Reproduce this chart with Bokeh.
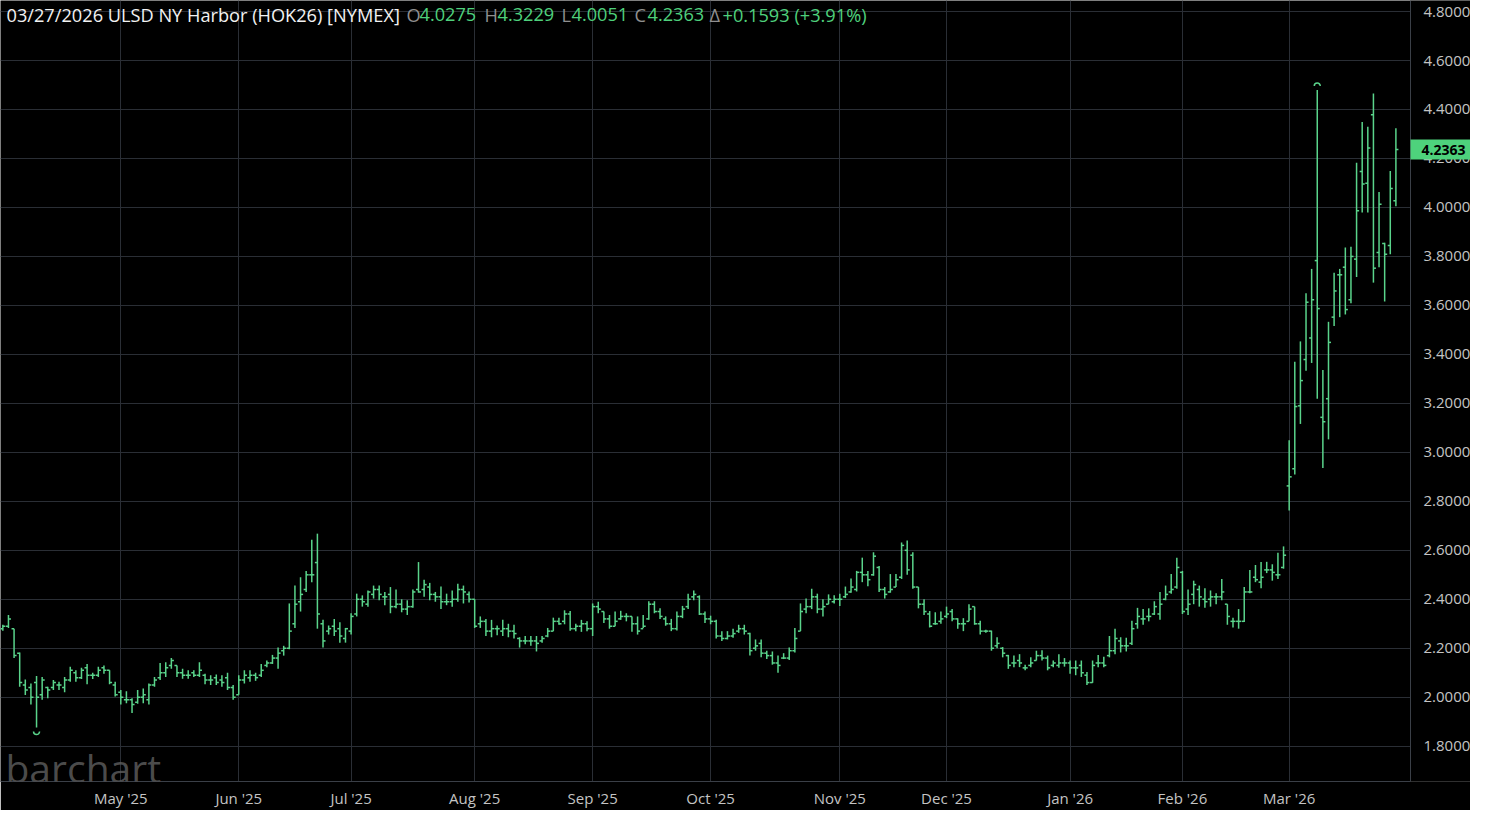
import numpy as np
import pandas as pd
from bokeh.plotting import figure
from bokeh.models import ColumnDataSource, FixedTicker, Label, NumeralTickFormatter, Range1d
from bokeh.embed import file_html
from bokeh.resources import INLINE

# ---------------- data ----------------
first_day = "2025-04-01"
last_day = "2026-03-27"
exchange_holidays = ["2025-04-18", "2025-05-26", "2025-06-19", "2025-07-04", "2025-09-01",
                     "2025-11-27", "2025-12-25", "2026-01-01", "2026-01-19", "2026-02-16"]

opens = [
    # Apr 2025
    2.28, 2.29, 2.28, 2.18, 2.05, 2.04, 2.06, 2.01, 2.04, 2.04, 2.05, 2.04, 2.07, 2.10, 2.08, 2.12, 2.09, 2.09, 2.12, 2.11, 2.05,
    # May
    2.02, 1.99, 1.99, 1.98, 2.00, 1.99, 2.05, 2.08, 2.10, 2.13, 2.13, 2.10, 2.09, 2.10, 2.09, 2.09, 2.07, 2.08, 2.07, 2.08, 2.04,
    # Jun
    2.01, 2.07, 2.08, 2.09, 2.09, 2.13, 2.14, 2.16, 2.19, 2.20, 2.30, 2.39, 2.44, 2.50, 2.55, 2.30, 2.27, 2.29, 2.28, 2.24,
    # Jul
    2.27, 2.34, 2.40, 2.38, 2.42, 2.44, 2.41, 2.42, 2.37, 2.38, 2.36, 2.37, 2.44, 2.44, 2.45, 2.42, 2.41, 2.39, 2.39, 2.40, 2.44, 2.42,
    # Aug
    2.40, 2.30, 2.31, 2.27, 2.28, 2.27, 2.28, 2.27, 2.24, 2.23, 2.23, 2.23, 2.23, 2.25, 2.27, 2.31, 2.31, 2.34, 2.28, 2.29, 2.30,
    # Sep
    2.28, 2.37, 2.35, 2.32, 2.29, 2.32, 2.33, 2.33, 2.30, 2.28, 2.32, 2.38, 2.35, 2.32, 2.30, 2.28, 2.33, 2.37, 2.41, 2.41, 2.34,
    # Oct
    2.32, 2.31, 2.25, 2.24, 2.25, 2.27, 2.28, 2.26, 2.20, 2.22, 2.18, 2.17, 2.14, 2.16, 2.16, 2.19, 2.27, 2.36, 2.37, 2.41, 2.36, 2.38, 2.39,
    # Nov
    2.40, 2.41, 2.43, 2.44, 2.51, 2.50, 2.50, 2.53, 2.44, 2.43, 2.45, 2.49, 2.60, 2.58, 2.45, 2.38, 2.34, 2.30, 2.31,
    # Dec
    2.33, 2.35, 2.32, 2.30, 2.31, 2.37, 2.30, 2.27, 2.27, 2.21, 2.20, 2.17, 2.14, 2.15, 2.12, 2.13, 2.15, 2.17, 2.16, 2.13, 2.13, 2.14,
    # Jan 2026
    2.14, 2.12, 2.13, 2.09, 2.06, 2.14, 2.14, 2.17, 2.19, 2.23, 2.21, 2.22, 2.30, 2.32, 2.33, 2.34, 2.34, 2.40, 2.43, 2.45,
    # Feb
    2.51, 2.36, 2.42, 2.44, 2.40, 2.40, 2.41, 2.41, 2.38, 2.31, 2.31, 2.31, 2.43, 2.49, 2.47, 2.52, 2.52, 2.50, 2.53,
    # Mar
    2.863, 2.933, 3.19, 3.379, 3.467, 3.783, 3.143, 3.219, 3.552, 3.725, 3.756, 3.623, 3.789, 4.147, 4.099, 4.379, 3.816, 3.853, 3.845, 4.0275,
]
highs = [
    2.296, 2.336, 2.28, 2.183, 2.072, 2.056, 2.087, 2.083, 2.043, 2.07, 2.063, 2.083, 2.125, 2.11, 2.12, 2.136, 2.10, 2.125, 2.13, 2.11, 2.063,
    2.03, 2.025, 1.996, 2.03, 2.036, 2.056, 2.083, 2.14, 2.143, 2.16, 2.13, 2.116, 2.11, 2.11, 2.143, 2.096, 2.09, 2.093, 2.09, 2.10, 2.05,
    2.09, 2.11, 2.11, 2.10, 2.136, 2.15, 2.173, 2.203, 2.21, 2.383, 2.456, 2.49, 2.516, 2.643, 2.668, 2.316, 2.293, 2.32, 2.306, 2.283,
    2.343, 2.423, 2.416, 2.436, 2.456, 2.456, 2.43, 2.45, 2.44, 2.40, 2.396, 2.44, 2.552, 2.48, 2.467, 2.43, 2.452, 2.423, 2.436, 2.463, 2.456, 2.432,
    2.40, 2.33, 2.32, 2.316, 2.293, 2.316, 2.30, 2.296, 2.245, 2.25, 2.25, 2.25, 2.25, 2.283, 2.325, 2.325, 2.355, 2.352, 2.30, 2.316, 2.31,
    2.383, 2.39, 2.35, 2.336, 2.35, 2.353, 2.343, 2.33, 2.33, 2.336, 2.392, 2.392, 2.363, 2.33, 2.32, 2.35, 2.373, 2.423, 2.436, 2.416, 2.35,
    2.333, 2.316, 2.27, 2.27, 2.28, 2.296, 2.296, 2.263, 2.236, 2.236, 2.19, 2.187, 2.17, 2.18, 2.203, 2.283, 2.383, 2.403, 2.443, 2.423, 2.40, 2.42, 2.416,
    2.423, 2.452, 2.485, 2.516, 2.57, 2.516, 2.592, 2.536, 2.45, 2.503, 2.503, 2.632, 2.64, 2.592, 2.45, 2.40, 2.352, 2.347, 2.35,
    2.37, 2.36, 2.323, 2.323, 2.38, 2.37, 2.312, 2.276, 2.272, 2.245, 2.205, 2.173, 2.17, 2.176, 2.133, 2.163, 2.19, 2.192, 2.17, 2.15, 2.176, 2.16,
    2.15, 2.15, 2.15, 2.103, 2.15, 2.173, 2.165, 2.25, 2.28, 2.245, 2.243, 2.312, 2.365, 2.36, 2.363, 2.392, 2.43, 2.456, 2.503, 2.57,
    2.516, 2.44, 2.476, 2.456, 2.445, 2.436, 2.425, 2.483, 2.38, 2.325, 2.36, 2.45, 2.52, 2.54, 2.552, 2.553, 2.543, 2.59, 2.616,
    3.049, 3.37, 3.453, 3.65, 3.749, 4.48, 3.336, 3.533, 3.733, 3.749, 3.836, 3.84, 4.183, 4.349, 4.329, 4.465, 4.063, 3.856, 4.149, 4.3229,
]
lows = [
    2.272, 2.283, 2.16, 2.043, 2.009, 1.97, 1.876, 1.99, 1.996, 2.03, 2.03, 2.02, 2.063, 2.063, 2.075, 2.053, 2.075, 2.083, 2.096, 2.053, 2.003,
    1.97, 1.976, 1.936, 1.973, 1.976, 1.97, 2.043, 2.07, 2.083, 2.116, 2.083, 2.076, 2.076, 2.083, 2.083, 2.053, 2.05, 2.05, 2.043, 2.03, 1.99,
    2.01, 2.056, 2.063, 2.067, 2.083, 2.123, 2.136, 2.116, 2.17, 2.196, 2.283, 2.35, 2.43, 2.47, 2.28, 2.203, 2.256, 2.25, 2.223, 2.223,
    2.256, 2.33, 2.37, 2.37, 2.403, 2.396, 2.376, 2.343, 2.363, 2.347, 2.336, 2.365, 2.427, 2.41, 2.396, 2.39, 2.36, 2.376, 2.37, 2.39, 2.383, 2.387,
    2.283, 2.283, 2.25, 2.245, 2.253, 2.25, 2.245, 2.24, 2.203, 2.216, 2.21, 2.187, 2.223, 2.245, 2.27, 2.296, 2.298, 2.272, 2.27, 2.267, 2.27,
    2.25, 2.343, 2.303, 2.28, 2.29, 2.316, 2.31, 2.267, 2.256, 2.283, 2.316, 2.343, 2.32, 2.292, 2.27, 2.273, 2.323, 2.36, 2.396, 2.336, 2.303,
    2.298, 2.24, 2.23, 2.236, 2.243, 2.263, 2.256, 2.17, 2.19, 2.163, 2.156, 2.133, 2.10, 2.156, 2.152, 2.183, 2.27, 2.343, 2.36, 2.343, 2.33, 2.38, 2.383,
    2.373, 2.405, 2.427, 2.432, 2.47, 2.453, 2.496, 2.43, 2.403, 2.427, 2.45, 2.483, 2.50, 2.443, 2.363, 2.336, 2.285, 2.296, 2.30,
    2.323, 2.31, 2.28, 2.27, 2.31, 2.296, 2.256, 2.263, 2.19, 2.20, 2.163, 2.116, 2.123, 2.123, 2.11, 2.123, 2.15, 2.15, 2.11, 2.123, 2.12, 2.125,
    2.096, 2.09, 2.083, 2.05, 2.059, 2.123, 2.123, 2.163, 2.176, 2.183, 2.187, 2.213, 2.28, 2.296, 2.31, 2.336, 2.316, 2.396, 2.423, 2.443,
    2.34, 2.336, 2.38, 2.37, 2.365, 2.37, 2.38, 2.396, 2.296, 2.285, 2.28, 2.307, 2.425, 2.47, 2.445, 2.507, 2.476, 2.483, 2.525,
    2.763, 2.91, 3.116, 3.333, 3.365, 3.219, 2.936, 3.053, 3.516, 3.552, 3.563, 3.609, 3.716, 3.979, 3.979, 3.693, 3.756, 3.616, 3.809, 4.0051,
]
closes = [
    2.29, 2.32, 2.17, 2.06, 2.03, 2.00, 2.00, 2.07, 2.03, 2.06, 2.05, 2.07, 2.11, 2.08, 2.11, 2.09, 2.09, 2.11, 2.11, 2.06, 2.01,
    2.00, 1.99, 1.97, 2.00, 2.01, 2.05, 2.07, 2.10, 2.12, 2.15, 2.10, 2.09, 2.09, 2.09, 2.11, 2.07, 2.07, 2.06, 2.06, 2.04, 2.00,
    2.07, 2.09, 2.09, 2.08, 2.11, 2.14, 2.16, 2.18, 2.20, 2.27, 2.38, 2.42, 2.50, 2.50, 2.34, 2.23, 2.28, 2.27, 2.25, 2.28,
    2.33, 2.40, 2.39, 2.43, 2.44, 2.42, 2.41, 2.37, 2.38, 2.36, 2.37, 2.43, 2.43, 2.46, 2.42, 2.41, 2.39, 2.39, 2.40, 2.44, 2.43, 2.40,
    2.29, 2.31, 2.27, 2.28, 2.28, 2.28, 2.27, 2.26, 2.23, 2.23, 2.23, 2.22, 2.24, 2.27, 2.31, 2.30, 2.34, 2.28, 2.29, 2.30, 2.28,
    2.37, 2.36, 2.32, 2.29, 2.31, 2.33, 2.33, 2.30, 2.27, 2.29, 2.38, 2.35, 2.33, 2.30, 2.28, 2.33, 2.36, 2.40, 2.42, 2.34, 2.32,
    2.31, 2.25, 2.24, 2.25, 2.26, 2.28, 2.27, 2.19, 2.21, 2.18, 2.17, 2.14, 2.13, 2.16, 2.19, 2.24, 2.35, 2.37, 2.41, 2.36, 2.37, 2.40, 2.40,
    2.40, 2.42, 2.45, 2.51, 2.50, 2.48, 2.576, 2.44, 2.42, 2.44, 2.48, 2.62, 2.52, 2.45, 2.38, 2.35, 2.29, 2.30, 2.32,
    2.34, 2.32, 2.30, 2.30, 2.36, 2.30, 2.27, 2.27, 2.20, 2.22, 2.18, 2.13, 2.14, 2.14, 2.12, 2.14, 2.17, 2.16, 2.12, 2.14, 2.14, 2.14,
    2.12, 2.12, 2.10, 2.06, 2.13, 2.14, 2.13, 2.19, 2.24, 2.21, 2.21, 2.28, 2.33, 2.32, 2.33, 2.37, 2.38, 2.42, 2.44, 2.53,
    2.35, 2.38, 2.46, 2.41, 2.39, 2.41, 2.41, 2.43, 2.33, 2.31, 2.31, 2.43, 2.43, 2.48, 2.49, 2.52, 2.51, 2.50, 2.58,
    2.90, 3.187, 3.293, 3.613, 3.623, 3.587, 3.125, 3.449, 3.659, 3.725, 3.583, 3.80, 3.987, 4.096, 4.243, 3.752, 4.013, 3.809, 4.077, 4.2363,
]
y_ticks = [1.8, 2.0, 2.2, 2.4, 2.6, 2.8, 3.0, 3.2, 3.4, 3.6, 3.8, 4.0, 4.2, 4.4, 4.6, 4.8]

# ---------------- derived ----------------
n = min(len(opens), len(highs), len(lows), len(closes))
all_days = [d for d in pd.bdate_range(first_day, last_day) if d.strftime("%Y-%m-%d") not in exchange_holidays]
dates = all_days[:n]
idx = np.arange(n)

month_idx, month_lbl = [], []
for i in range(1, len(dates)):
    if dates[i].month != dates[i - 1].month:
        month_idx.append(i)
        month_lbl.append(dates[i].strftime("%b '%y"))

# ---------------- style ----------------
BG = "#000000"
GREEN = "#5ad48b"
GRID = "#2a2e35"
AXIS = "#3a3f47"
LABEL = "#c4c4c4"
FONT = "Open Sans"

W, H = 1470, 810
AXIS_W = 60                 # px reserved right of the price axis
x0, x_axis = -0.416, 250.6  # bar area
px_per_bar = (W - AXIS_W) / (x_axis - x0)
x1 = x_axis + AXIS_W / px_per_bar
y0, y1 = 1.656, 4.845

p = figure(width=W, height=H, output_backend="svg", toolbar_location=None,
           x_range=Range1d(x0, x1), y_range=Range1d(y0, y1), y_axis_location="right",
           min_border_left=0, min_border_top=0, min_border_right=0, min_border_bottom=27,
           background_fill_color=BG, border_fill_color=BG, outline_line_color=None)

p.grid.grid_line_color = GRID
p.grid.grid_line_width = 1

p.xaxis.ticker = FixedTicker(ticks=month_idx)
p.xaxis.major_label_overrides = {int(i): l for i, l in zip(month_idx, month_lbl)}
p.xaxis.bounds = (x0, x_axis)
p.yaxis.ticker = FixedTicker(ticks=y_ticks)
p.yaxis.formatter = NumeralTickFormatter(format="0.0000")
p.yaxis.fixed_location = x_axis

for ax in (p.xaxis[0], p.yaxis[0]):
    ax.axis_line_color = AXIS
    ax.major_tick_line_color = None
    ax.minor_tick_line_color = None
    ax.major_tick_out = 0
    ax.major_tick_in = 0
    ax.major_label_text_color = LABEL
    ax.major_label_text_font = FONT
    ax.major_label_text_font_size = "15px"
p.yaxis.major_label_standoff = 13
p.xaxis.major_label_standoff = 6

# price-scale area (hides grid lines right of the axis)
p.quad(left=[x_axis], right=[x1], bottom=[y0], top=[y1], fill_color=BG, line_color=None)

# watermark
p.add_layout(Label(x=x0, y=y0, x_offset=5, y_offset=14, text="barchart", text_font=FONT,
                   text_font_size="39px", text_color="#5a5a5a", text_alpha=0.85,
                   text_baseline="middle", text_align="left"))

src = ColumnDataSource(dict(x=idx, xl=idx - 0.45, xr=idx + 0.45,
                            o=opens[:n], h=highs[:n], l=lows[:n], c=closes[:n]))
p.segment(x0="x", y0="l", x1="x", y1="h", source=src, line_color=GREEN, line_width=1.5)
p.segment(x0="xl", y0="o", x1="x", y1="o", source=src, line_color=GREEN, line_width=1.5)
p.segment(x0="x", y0="c", x1="xr", y1="c", source=src, line_color=GREEN, line_width=1.5)

# highest high / lowest low markers
imax = int(np.argmax(highs[:n]))
imin = int(np.argmin(lows[:n]))
p.arc(x=[imax], y=[highs[imax] + 0.016], radius=3, radius_units="screen",
      start_angle=0, end_angle=np.pi, line_color=GREEN, line_width=1.5)
p.arc(x=[imin], y=[lows[imin] - 0.016], radius=3, radius_units="screen",
      start_angle=np.pi, end_angle=2 * np.pi, line_color=GREEN, line_width=1.5)

# header
lo, lh, ll, lc = opens[n - 1], highs[n - 1], lows[n - 1], closes[n - 1]
prev = closes[n - 2]
chg = lc - prev
pct = chg / prev * 100
title = f"{dates[-1].strftime('%m/%d/%Y')} ULSD NY Harbor (HOK26) [NYMEX]"
HGRAY = "#8f8f8f"
HGREEN = "#4fd07c"
parts = [
    (title, 6, "#f2f2f2"),
    ("O", 406, HGRAY), (f"{lo:.4f}", 419, HGREEN),
    ("H", 484, HGRAY), (f"{lh:.4f}", 497, HGREEN),
    ("L", 561, HGRAY), (f"{ll:.4f}", 571, HGREEN),
    ("C", 634, HGRAY), (f"{lc:.4f}", 647, HGREEN),
    ("Δ", 709, HGRAY), (f"{chg:+.4f} ({pct:+.2f}%)", 722, HGREEN),
]
for txt, px, col in parts:
    p.add_layout(Label(x=x0, y=y1, x_offset=px, y_offset=-14, text=txt, text_font=FONT,
                       text_font_size="18.2px", text_color=col, text_baseline="middle", text_align="left"))

# last price tag on the price axis  (padding: left, right, top, bottom)
p.add_layout(Label(x=x_axis, y=lc, x_offset=0, y_offset=0, text=f"{lc:.4f}", text_font=FONT,
                   text_font_size="14px", text_font_style="bold", text_color="#000000",
                   text_baseline="middle", text_align="left", background_fill_color="#4ed27c",
                   padding=(11, 5, 5, 5)))

open("out.html", "w").write(file_html(p, INLINE))
